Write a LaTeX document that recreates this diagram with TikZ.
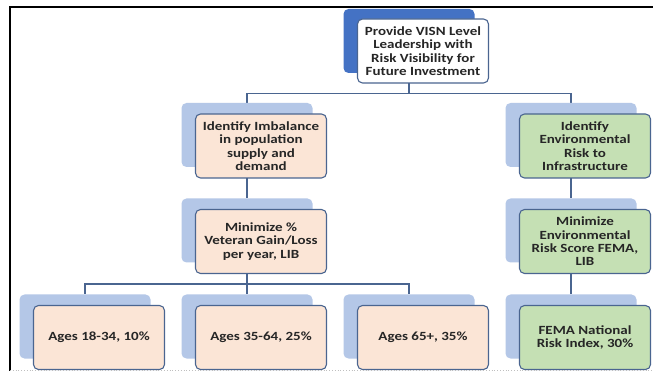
\documentclass[tikz,border=0pt]{standalone}
\usepackage{fontspec}
\setmainfont{Carlito}
\newfontfamily\cardfont[FakeStretch=1.2]{Carlito}
\usetikzlibrary{backgrounds}
\definecolor{backblue}{HTML}{B4C7E7}
\definecolor{topblue}{HTML}{4472C4}
\definecolor{edgeblue}{HTML}{4A6590}
\definecolor{peach}{HTML}{FBE5D6}
\definecolor{leaf}{HTML}{C5E0B4}
\definecolor{ink}{HTML}{262626}
\tikzset{
  x=1pt, y=-1pt,
  card/.style={rounded corners=5pt, minimum width=131pt, minimum height=64pt,
    inner sep=0pt},
  backcard/.style={card, fill=backblue},
  frontcard/.style={card, draw=edgeblue, line width=1.1pt, align=center,
    font=\cardfont\bfseries\fontsize{12.5}{13.4}\selectfont, text=ink},
  link/.style={draw=edgeblue, line width=1.1pt},
}
\begin{document}
\begin{tikzpicture}
\useasboundingbox (0,0) rectangle (653,371);

% shadow cards
\node[backcard, fill=topblue] (topB) at (409,41) {};
\node[backcard] (popB) at (247,135) {};
\node[backcard] (envB) at (571,135) {};
\node[backcard] (vetB) at (247,230.5) {};
\node[backcard] (femaB) at (571,230.5) {};
\node[backcard] (a1B) at (85,326.5) {};
\node[backcard] (a2B) at (247,326.5) {};
\node[backcard] (a3B) at (409,326.5) {};
\node[backcard] (riB) at (571,326.5) {};

% text cards
\node[frontcard, fill=white] (top) at (423,51) {Provide VISN Level\\Leadership with\\Risk Visibility for\\Future Investment};
\node[frontcard, fill=peach] (pop) at (261,146) {Identify Imbalance\\in population\\supply and\\demand};
\node[frontcard, fill=leaf] (env) at (585,146) {Identify\\Environmental\\Risk to\\Infrastructure};
\node[frontcard, fill=peach] (vet) at (261,241.5) {Minimize \%\\Veteran Gain/Loss\\per year, LIB};
\node[frontcard, fill=leaf] (fema) at (585,241.5) {Minimize\\Environmental\\Risk Score FEMA,\\LIB};
\node[frontcard, fill=peach] (a1) at (99,337.5) {Ages 18-34, 10\%};
\node[frontcard, fill=peach] (a2) at (261,337.5) {Ages 35-64, 25\%};
\node[frontcard, fill=peach] (a3) at (423,337.5) {Ages 65+, 35\%};
\node[frontcard, fill=leaf] (ri) at (585,337.5) {FEMA National\\Risk Index, 30\%};

% connectors behind the cards
\begin{scope}[on background layer]
  \fill[white] (0,0) rectangle (653,371);
  \coordinate (j1) at (409,93.5);
  \coordinate (j2) at (247,284);
  \path[link] (topB.south) -- (j1) -| (popB.north);
  \path[link] (j1) -| (envB.north);
  \path[link] (popB.south) -- (vetB.north);
  \path[link] (envB.south) -- (femaB.north);
  \path[link] (vetB.south) -- (j2) -| (a1B.north);
  \path[link] (j2) -| (a3B.north);
  \path[link] (j2) -- (a2B.north);
  \path[link] (femaB.south) -- (riB.north);
\end{scope}

% outer frame
\draw[black, line width=2pt] (9.5,371) -- (9.5,7.5) -- (653,7.5);
\draw[gray!50, dotted, line width=0.8pt] (10,370.5) -- (653,370.5);
\end{tikzpicture}
\end{document}
